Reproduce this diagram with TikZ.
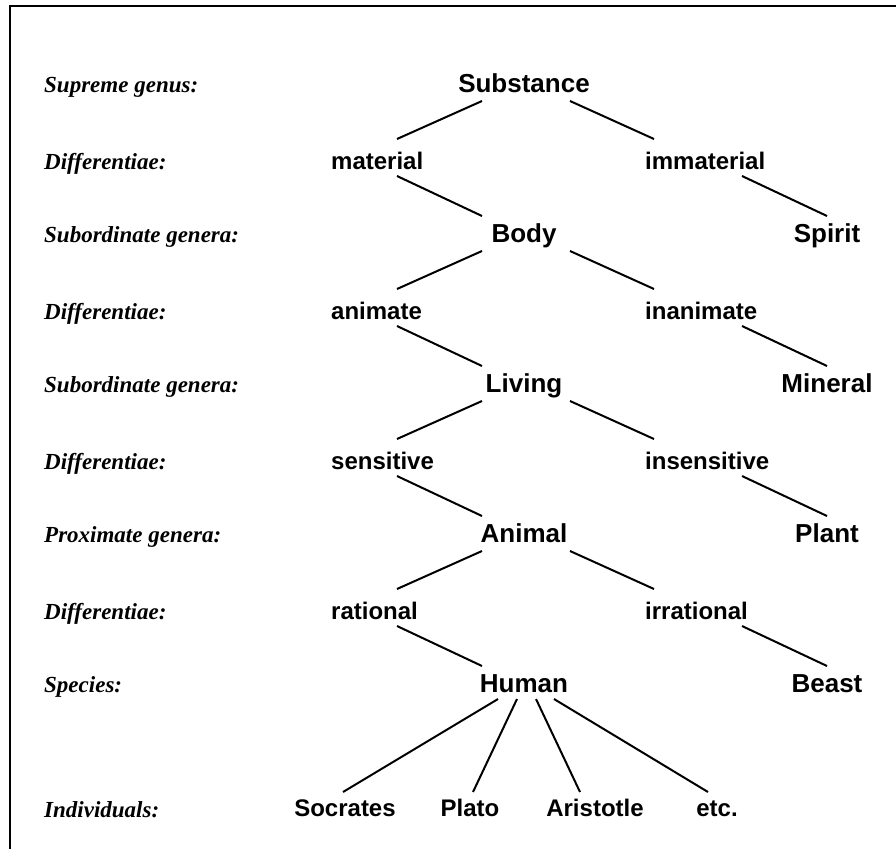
\documentclass[tikz,border=0pt]{standalone}
\usepackage{fontspec}
\setmainfont{Liberation Serif}
\setsansfont{Liberation Sans}

\tikzset{
    rowlabel/.style={anchor=base west,inner sep=0pt,font=\rmfamily\bfseries\itshape\fontsize{23}{23}\selectfont},
    genus/.style={anchor=base,inner sep=0pt,font=\sffamily\bfseries\fontsize{26}{26}\selectfont},
    diff/.style={anchor=base west,inner sep=0pt,font=\sffamily\bfseries\fontsize{24}{24}\selectfont},
    indiv/.style={anchor=base,inner sep=0pt,font=\sffamily\bfseries\fontsize{24}{24}\selectfont},
    twig/.style={line width=2pt},
}

\begin{document}
\begin{tikzpicture}[x=1pt,y=-1pt]
    \useasboundingbox (0,0) rectangle (896,849);
    \draw[line width=2.4pt] (10,849) -- (10,6) -- (896,6);

    % row labels
    \foreach \y/\t [count=\i] in {92/Supreme genus:, 169/Differentiae:, 242/Subordinate genera:,
        319/Differentiae:, 392/Subordinate genera:, 469/Differentiae:, 542/Proximate genera:,
        619/Differentiae:, 692/Species:, 817/Individuals:} {
        \node[rowlabel] (lab\i) at (44,\y) {\t};
    }

    % tree
    \node[genus] (sub) at (524,92) {Substance};
    \node[diff] (mat) at (331,169) {material};
    \node[diff] (imm) at (645,169) {immaterial};
    \node[genus] (body) at (524,242) {Body};
    \node[genus] (spirit) at (827,242) {Spirit};
    \node[diff] (anim) at (331,319) {animate};
    \node[diff] (inan) at (645,319) {inanimate};
    \node[genus] (living) at (524,392) {Living};
    \node[genus] (mineral) at (827,392) {Mineral};
    \node[diff] (sens) at (331,469) {sensitive};
    \node[diff] (insens) at (645,469) {insensitive};
    \node[genus] (animal) at (524,542) {Animal};
    \node[genus] (plant) at (827,542) {Plant};
    \node[diff] (rat) at (331,619) {rational};
    \node[diff] (irrat) at (645,619) {irrational};
    \node[genus] (human) at (524,692) {Human};
    \node[genus] (beast) at (827,692) {Beast};

    \node[indiv] (soc) at (345,816) {Socrates};
    \node[indiv] (pla) at (470,816) {Plato};
    \node[indiv] (ari) at (595,816) {Aristotle};
    \node[indiv] (etc) at (717,816) {etc.};

    \foreach \g/\l/\r/\n/\s in {sub/mat/imm/body/spirit, body/anim/inan/living/mineral,
        living/sens/insens/animal/plant, animal/rat/irrat/human/beast} {
        \draw[twig] ([xshift=-42pt,yshift=-9pt]\g.base) -- ([xshift=66pt,yshift=30pt]\l.base west);
        \draw[twig] ([xshift=46pt,yshift=-9pt]\g.base) -- ([xshift=9pt,yshift=30pt]\r.base west);
        \draw[twig] ([xshift=66pt,yshift=-7pt]\l.base west) -- ([xshift=-42pt,yshift=26pt]\n.base);
        \draw[twig] ([xshift=97pt,yshift=-7pt]\r.base west) -- ([yshift=26pt]\s.base);
    }

    \foreach \i/\a/\b in {soc/-26/-2, pla/-7/3, ari/12/-15, etc/30/-9} {
        \draw[twig] ([xshift=\a pt,yshift=-7pt]human.base) -- ([xshift=\b pt,yshift=24pt]\i.base);
    }

\end{tikzpicture}
\end{document}
